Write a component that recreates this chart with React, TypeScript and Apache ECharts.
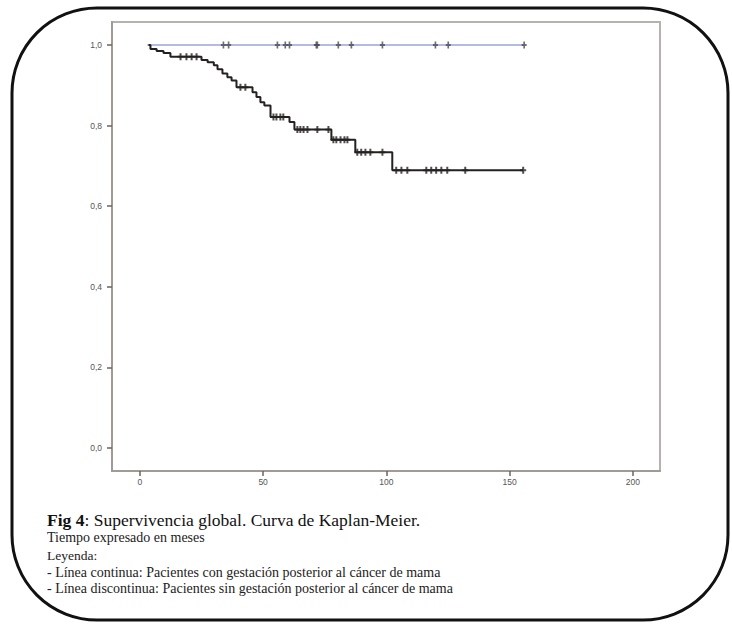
import React, { useEffect, useRef } from "react";
import * as echarts from "echarts";

// Kaplan-Meier curve for the group with events (time in months, survival after each drop)
const blackStart = 3.5;
const blackEnd = 155.5;
const blackEventTimes = [4.3, 6.8, 9.6, 12.4, 25.0, 27.5, 30.0, 31.5, 33.5, 35.5, 37.2, 39.2, 45.7, 47.3, 48.9, 50.5, 53.0, 60.7, 62.7, 77.7, 87.4, 102.4];
const blackSurvival = [0.99, 0.985, 0.98, 0.971, 0.963, 0.957, 0.95, 0.94, 0.929, 0.92, 0.912, 0.895, 0.883, 0.871, 0.858, 0.85, 0.821, 0.809, 0.79, 0.765, 0.734, 0.689];
const blackCensorTimes = [16.5, 18.9, 21.0, 23.0, 40.8, 42.8, 54.2, 55.4, 57.0, 58.2, 63.9, 65.1, 66.4, 68.0, 72.0, 76.5, 78.5, 79.7, 81.4, 83.0, 84.2, 88.2, 89.8, 91.5, 93.5, 98.4, 104.0, 106.1, 108.5, 116.2, 118.2, 120.2, 122.3, 124.7, 132.0, 155.5];

// Group without events: survival stays at 1
const blueStart = 3.0;
const blueEnd = 155.9;
const blueCensorTimes = [33.9, 36.0, 55.8, 59.0, 60.7, 71.6, 72.0, 80.5, 85.8, 98.4, 119.9, 125.1, 155.9];

const xTicks = [0, 50, 100, 150, 200];
const yTicks = [0, 0.2, 0.4, 0.6, 0.8, 1.0];

const captionTitle = "Supervivencia global. Curva de Kaplan-Meier.";
const captionLines = [
  "Tiempo expresado en meses",
  "Leyenda:",
  "- Línea continua: Pacientes con gestación posterior al cáncer de mama",
  "- Línea discontinua: Pacientes sin gestación posterior al cáncer de mama",
];

function survivalAt(t: number): number {
  let s = 1;
  for (let i = 0; i < blackEventTimes.length; i++) {
    if (blackEventTimes[i] <= t) s = blackSurvival[i];
  }
  return s;
}

function stepPoints(): number[][] {
  const pts: number[][] = [[blackStart, 1]];
  let prev = 1;
  blackEventTimes.forEach((t, i) => {
    pts.push([t, prev]);
    pts.push([t, blackSurvival[i]]);
    prev = blackSurvival[i];
  });
  pts.push([blackEnd, prev]);
  return pts;
}

const PLUS = "path://M3,0h3v4h3v3h-3v4h-3v-4h-3v-3h3z";
const AXIS_COLOR = "#a39a95";
const SERIF = "'Liberation Serif', 'DejaVu Serif', serif";

export default function App() {
  const ref = useRef<HTMLDivElement>(null);

  useEffect(() => {
    document.body.style.margin = "0";
    if (!ref.current) return;
    const chart = echarts.init(ref.current, undefined, { renderer: "svg" });

    const captionY = [537, 555, 572, 588];
    const captionSizes = [14, 13.5, 14, 14];

    chart.setOption({
      animation: false,
      backgroundColor: "#ffffff",
      grid: {
        left: 112,
        top: 22,
        right: 72,
        bottom: 154,
        show: true,
        borderColor: "#b8b2ae",
        borderWidth: 2,
        backgroundColor: "#ffffff",
      },
      xAxis: {
        type: "value",
        min: -11.3,
        max: 211,
        splitLine: { show: false },
        axisLine: { show: true, onZero: false, lineStyle: { color: AXIS_COLOR, width: 2 } },
        axisTick: { show: true, length: 5, customValues: xTicks, lineStyle: { color: "#6b625e", width: 1.5 } },
        axisLabel: {
          customValues: xTicks,
          fontSize: 8.5,
          color: "#555",
          margin: 6,
          fontFamily: "'Liberation Sans', Arial, sans-serif",
        },
      },
      yAxis: {
        type: "value",
        min: -0.057,
        max: 1.057,
        splitLine: { show: false },
        axisLine: { show: true, onZero: false, lineStyle: { color: AXIS_COLOR, width: 2 } },
        axisTick: { show: true, length: 5, customValues: yTicks, lineStyle: { color: "#6b625e", width: 1.5 } },
        axisLabel: {
          customValues: yTicks,
          fontSize: 8.5,
          color: "#555",
          margin: 10,
          fontFamily: "'Liberation Sans', Arial, sans-serif",
          formatter: (v: number) => v.toFixed(1).replace(".", ","),
        },
      },
      series: [
        {
          type: "line",
          data: [
            [blueStart, 1],
            [blueEnd, 1],
          ],
          symbol: "none",
          lineStyle: { color: "#99a3dc", width: 1.6 },
          z: 2,
        },
        {
          type: "scatter",
          data: blueCensorTimes.map((t) => [t, 1]),
          symbol: PLUS,
          symbolSize: [5, 7],
          itemStyle: { color: "#4a4a52" },
          z: 3,
        },
        {
          type: "line",
          data: stepPoints(),
          symbol: "none",
          lineStyle: { color: "#252120", width: 2 },
          z: 4,
        },
        {
          type: "scatter",
          data: blackCensorTimes.map((t) => [t, survivalAt(t)]),
          symbol: PLUS,
          symbolSize: [6, 7],
          itemStyle: { color: "#252120" },
          z: 5,
        },
      ],
      graphic: [
        {
          type: "rect",
          shape: { x: 12, y: 8, width: 716, height: 612, r: 85 },
          style: { fill: "none", stroke: "#111", lineWidth: 3 },
          z: 10,
        },
        {
          type: "text",
          x: 47,
          y: 520,
          style: {
            text: "{b|Fig 4}: " + captionTitle,
            fontFamily: SERIF,
            fontSize: 17.5,
            fill: "#111",
            verticalAlign: "middle",
            rich: { b: { fontWeight: "bold", fontFamily: SERIF, fontSize: 17.5, fill: "#111" } },
          },
        },
        ...captionLines.map((line, i) => ({
          type: "text",
          x: 47,
          y: captionY[i],
          style: {
            text: line,
            fontFamily: SERIF,
            fontSize: captionSizes[i],
            fill: "#222",
            verticalAlign: "middle",
          },
        })),
      ],
    });

    return () => chart.dispose();
  }, []);

  return <div ref={ref} style={{ width: 732, height: 625 }} />;
}
